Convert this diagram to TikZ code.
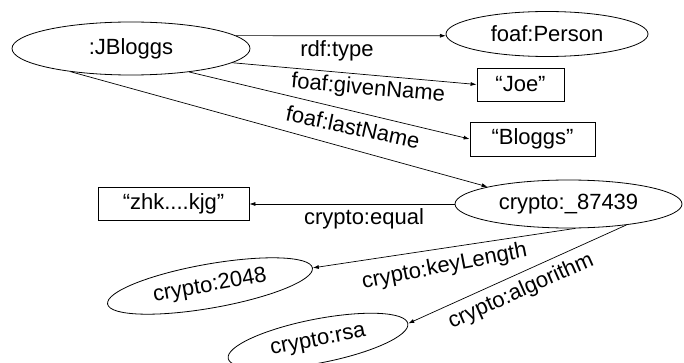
\documentclass[tikz,border=0pt]{standalone}
\usepackage{fontspec}
\setmainfont{Liberation Sans}
\usetikzlibrary{shapes.geometric,arrows.meta}

\begin{document}
\begin{tikzpicture}[x=1pt,y=1pt,
  resource/.style={draw, ellipse, line width=0.8pt, inner sep=0pt},
  literal/.style={draw, rectangle, line width=0.8pt, inner sep=0pt},
  prop/.style={-{Latex[length=6pt,width=4pt]}, line width=0.7pt},
  font=\fontsize{22}{26}\selectfont]

\useasboundingbox (0,0) rectangle (684,362) ;

\node [resource, minimum width=238, minimum height=53] (jbloggs) at (131,313.5) {:JBloggs} ;
\node [resource, minimum width=202, minimum height=45] (person) at (547,328) {foaf:Person} ;
\node [literal, minimum width=87, minimum height=33] (joe) at (520.5,277.5) {“Joe”} ;
\node [literal, minimum width=125, minimum height=34] (bloggs) at (532.5,223) {“Bloggs”} ;
\node [resource, minimum width=227, minimum height=48] (key) at (568.5,158) {crypto:\_87439} ;
\node [literal, minimum width=151, minimum height=33] (zhk) at (173.5,158) {“zhk....kjg”} ;
\node [resource, rotate=10, minimum width=208, minimum height=44] (len) at (210,76) {crypto:2048} ;
\node [resource, rotate=11, minimum width=183, minimum height=44] (rsa) at (318,21) {crypto:rsa} ;

\draw [prop] (jbloggs.7) -- (person.181) ;
\draw [prop] (jbloggs.-8) -- (joe.west) ;
\draw [prop] (jbloggs.-22) -- (bloggs.west) ;
\draw [prop] (jbloggs.201) -- (key.168) ;
\draw [prop] (key.west) -- (zhk.east) ;
\draw [prop] (key.-74) -- (len.east) ;
\draw [prop] (key.-20) -- (rsa.east) ;

\node (rdftype) at (337,311) {rdf:type} ;
\node [rotate=-5] (given) at (368,273) {foaf:givenName} ;
\node [rotate=-12] (last) at (353,235) {foaf:lastName} ;
\node (equal) at (364,143) {crypto:equal} ;
\node [rotate=11] (keylength) at (444.5,95) {crypto:keyLength} ;
\node [rotate=24] (algo) at (521,70.5) {crypto:algorithm} ;

\end{tikzpicture}
\end{document}
